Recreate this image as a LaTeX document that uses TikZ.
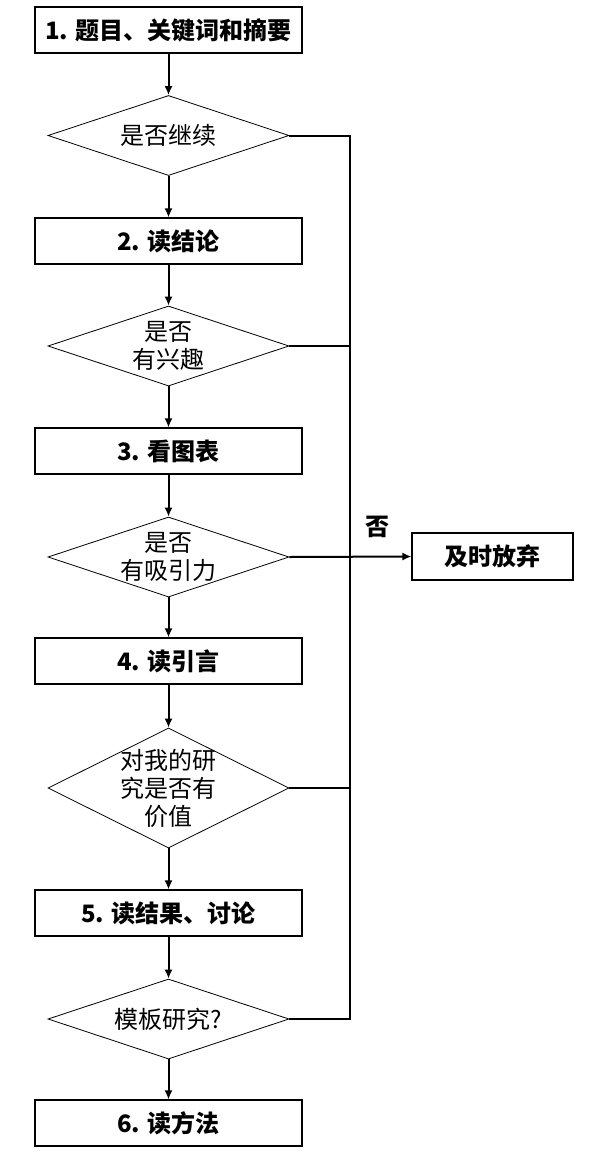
\documentclass[tikz,border=0pt]{standalone}
\usepackage{fontspec}
\usetikzlibrary{shapes.geometric,arrows.meta}
\newfontfamily\cjk{Noto Sans CJK SC}
\tikzset{
  stepbox/.style={draw,line width=1.1pt,minimum width=267pt,minimum height=46pt,
        inner sep=0pt,font=\cjk\bfseries\fontsize{24}{28}\selectfont},
  askbox/.style={draw,diamond,line width=0.8pt,minimum width=241pt,
        minimum height=80pt,inner sep=0pt},
  asktext/.style={align=center,inner sep=0pt,font=\cjk\fontsize{24}{28}\selectfont},
  flow/.style={line width=2pt,-{Latex[length=9pt,width=8pt]}},
  link/.style={line width=2pt},
}

\begin{document}
\begin{tikzpicture}[x=1pt,y=-1pt]
  \useasboundingbox (0,0) rectangle (596,1152);
  % reading steps
  \foreach \n/\y/\t in {1/30/{1. 题目、关键词和摘要}, 2/241/{2. 读结论}, 3/451/{3. 看图表},
                         4/661/{4. 读引言}, 5/913/{5. 读结果、讨论}, 6/1123/{6. 读方法}} {
    \node[stepbox] (b\n) at (168.5,\y) {\t};
  }
  % decisions
  \foreach \n/\y/\t in {1/135.5/{是否继续}, 2/346/{是否\\有兴趣}, 3/557/{是否\\有吸引力},
                         5/1019/{模板研究?}} {
    \node[askbox,label={[asktext]center:{\t}}] (d\n) at (168.5,\y) {};
  }
  \node[askbox,minimum height=120pt,label={[asktext]center:{对我的研\\究是否有\\价值}}]
        (d4) at (168.5,788) {};
  \node[stepbox,minimum width=161pt,minimum height=47pt] (quit) at (492.5,556.5) {及时放弃};
  % main flow
  \foreach \a/\b in {b1/d1, d1/b2, b2/d2, d2/b3, b3/d3, d3/b4, b4/d4, d4/b5, b5/d5, d5/b6}
    \draw[flow] (\a) -- (\b);
  % the "no" branch
  \coordinate (spine) at (350,0);
  \draw[link] (d1.east) -- (d1.east -| spine) -- (d5.east -| spine) -- (d5.east);
  \foreach \d in {d2,d4}
    \draw[link] (\d.east) -- (\d.east -| spine);
  \draw[flow] (d3.east) -- (quit.west)
    node[pos=0.72,above=18pt,inner sep=0pt,font=\cjk\bfseries\fontsize{24}{28}\selectfont] (no) {否};
\end{tikzpicture}
\end{document}
